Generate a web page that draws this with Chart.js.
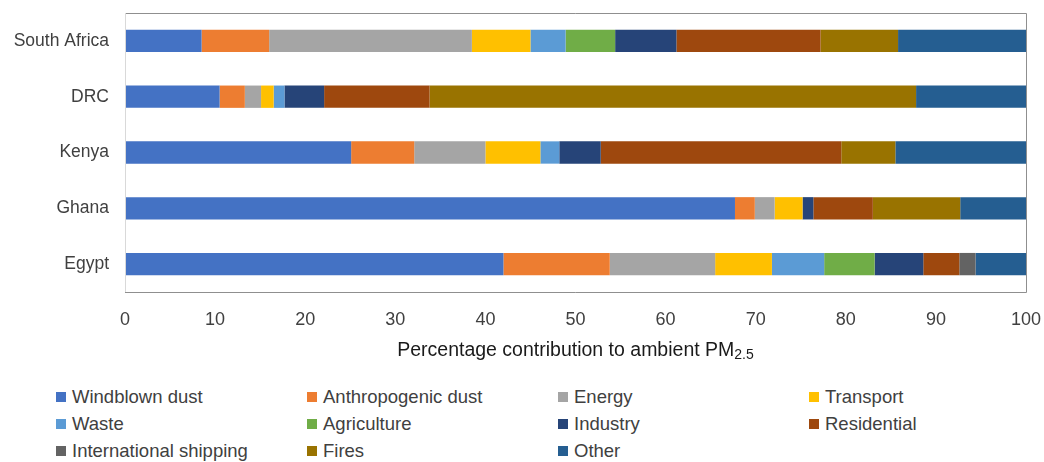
<!DOCTYPE html>
<html>
<head>
<meta charset="utf-8">
<script src="https://cdn.jsdelivr.net/npm/chart.js@4/dist/chart.umd.min.js"></script>
<style>
  body { margin:0; background:#fff; font-family:"Liberation Sans", Arial, sans-serif; }
  #wrap { position:relative; width:1044px; height:462px; }
  #chartBox { position:absolute; left:0; top:0; width:1044px; height:372px; }
  #legenda { position:absolute; left:56px; top:386px; width:990px; }
  .item { position:absolute; display:flex; align-items:center; font-size:18.5px; color:#404040; white-space:nowrap; }
  .item span.sq { width:10px; height:10px; margin-right:6px; display:inline-block; }
</style>
</head>
<body>
<div id="wrap">
  <div id="chartBox"><canvas id="grafico"></canvas></div>
  <div id="legenda"></div>
</div>
<script>
const paises = ['South Africa', 'DRC', 'Kenya', 'Ghana', 'Egypt'];
const fontes = ['Windblown dust', 'Anthropogenic dust', 'Energy', 'Transport', 'Waste', 'Agriculture',
  'Industry', 'Residential', 'International shipping', 'Fires', 'Other'];
const cores = ['#4472C4', '#ED7D31', '#A5A5A5', '#FFC000', '#5B9BD5', '#70AD47',
  '#264478', '#9E480E', '#636363', '#997300', '#255E91'];

// one array per source, order: South Africa, DRC, Kenya, Ghana, Egypt
const windblown     = [8.5, 10.5, 25.1, 67.7, 42.0];
const antropogenica = [7.5, 2.8, 7.0, 2.2, 11.8];
const energia       = [22.5, 1.8, 7.9, 2.2, 11.7];
const transporte    = [6.5, 1.4, 6.1, 3.1, 6.3];
const residuos      = [3.9, 1.2, 2.1, 0, 5.8];
const agricultura   = [5.5, 0, 0, 0, 5.6];
const industria     = [6.8, 4.4, 4.6, 1.2, 5.4];
const residencial   = [16.0, 11.7, 26.7, 6.6, 4.0];
const navegacao     = [0, 0, 0, 0, 1.8];
const queimadas     = [8.6, 54.0, 6.0, 9.7, 0];
const outros        = [14.2, 12.2, 14.5, 7.3, 5.6];
const ticksX = [0, 10, 20, 30, 40, 50, 60, 70, 80, 90, 100];

const series = [windblown, antropogenica, energia, transporte, residuos, agricultura,
  industria, residencial, navegacao, queimadas, outros];

const PLOT_LEFT = 125, PLOT_BOTTOM = 292, ALTURA = 372;
const FONTE = '"Liberation Sans", Arial, sans-serif';

const moldura = {
  id: 'moldura',
  afterDraw(chart) {
    const a = chart.chartArea, ctx = chart.ctx;
    ctx.save();
    ctx.strokeStyle = '#8f8f8f';
    ctx.lineWidth = 1;
    ctx.beginPath();
    ctx.moveTo(a.left, a.top + 0.5); ctx.lineTo(a.right + 0.5, a.top + 0.5);
    ctx.lineTo(a.right + 0.5, a.bottom + 0.5); ctx.lineTo(a.left, a.bottom + 0.5);
    ctx.stroke();
    ctx.strokeStyle = '#d9d9d9';
    ctx.beginPath();
    ctx.moveTo(a.left + 0.5, a.top); ctx.lineTo(a.left + 0.5, a.bottom);
    ctx.stroke();
    // axis title with subscript
    const txt = 'Percentage contribution to ambient PM', sub = '2.5';
    ctx.fillStyle = '#1a1a1a';
    ctx.textBaseline = 'alphabetic';
    ctx.font = '19.5px ' + FONTE;
    const w1 = ctx.measureText(txt).width;
    ctx.font = '14px ' + FONTE;
    const w2 = ctx.measureText(sub).width;
    const x0 = (a.left + a.right) / 2 - (w1 + w2) / 2;
    const y0 = 356;
    ctx.font = '19.5px ' + FONTE;
    ctx.fillText(txt, x0, y0);
    ctx.font = '14px ' + FONTE;
    ctx.fillText(sub, x0 + w1, y0 + 3);
    ctx.restore();
  }
};

new Chart(document.getElementById('grafico'), {
  type: 'bar',
  data: {
    labels: paises,
    datasets: fontes.map((f, i) => ({
      label: f, data: series[i], backgroundColor: cores[i],
      borderWidth: 0, barPercentage: 0.4, categoryPercentage: 1
    }))
  },
  options: {
    indexAxis: 'y',
    responsive: true,
    maintainAspectRatio: false,
    animation: false,
    layout: { padding: { top: 13, right: 18, left: 0, bottom: 0 } },
    plugins: { legend: { display: false }, tooltip: { enabled: false } },
    scales: {
      x: {
        stacked: true, min: 0, max: 100,
        afterBuildTicks: s => { s.ticks = ticksX.map(v => ({ value: v })); },
        afterFit: s => { s.height = ALTURA - PLOT_BOTTOM; s.paddingLeft = 0; s.paddingRight = 0; },
        grid: { display: false, drawTicks: false },
        border: { display: false },
        ticks: { color: '#404040', padding: 17, font: { size: 18, family: FONTE } }
      },
      y: {
        stacked: true,
        afterFit: s => { s.width = PLOT_LEFT; s.paddingTop = 0; s.paddingBottom = 0; },
        grid: { display: false, drawTicks: false },
        border: { display: false },
        ticks: { color: '#404040', padding: 16, font: { size: 17.5, family: FONTE } }
      }
    }
  },
  plugins: [moldura]
});

const leg = document.getElementById('legenda');
fontes.forEach((f, i) => {
  const d = document.createElement('div');
  d.className = 'item';
  d.style.left = (i % 4) * 251 + 'px';
  d.style.top = Math.floor(i / 4) * 27 + 'px';
  d.innerHTML = `<span class="sq" style="background:${cores[i]}"></span>${f}`;
  leg.appendChild(d);
});
</script>
</body>
</html>
